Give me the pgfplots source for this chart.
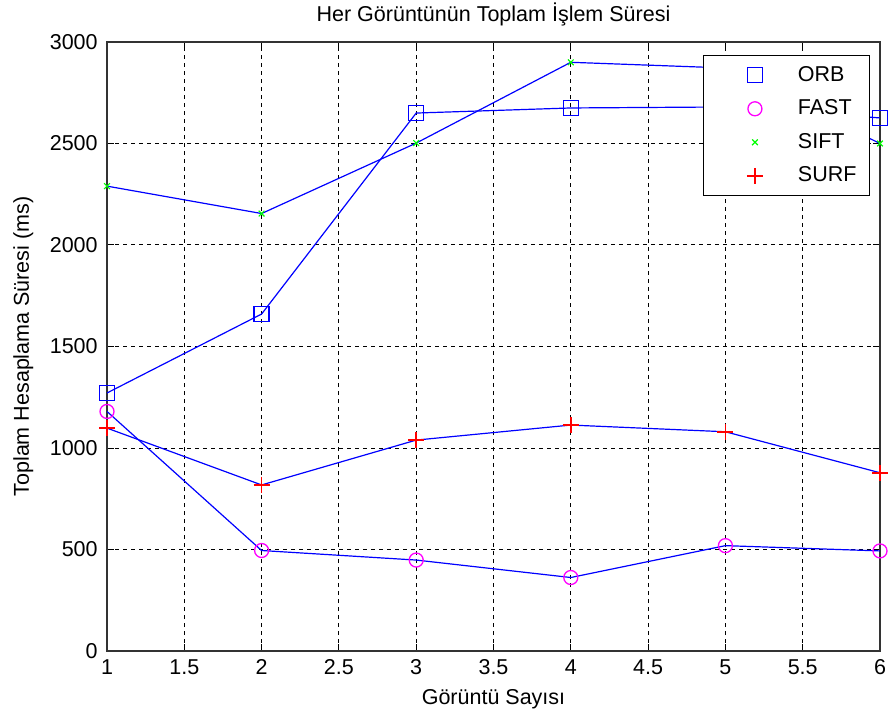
\documentclass[border=0pt]{standalone}
\usepackage{pgfplots}
\pgfplotsset{compat=1.18}
\usepackage{fontspec}
\setmainfont{Liberation Sans}
\definecolor{mblue}{RGB}{0,0,255}
\definecolor{mmag}{RGB}{255,0,255}
\definecolor{mgreen}{RGB}{0,255,0}
\definecolor{mred}{RGB}{255,0,0}
\newcommand{\ff}{\fontsize{21.5pt}{25pt}\selectfont}
\begin{document}
\ff
\begin{tikzpicture}
\begin{axis}[
  set layers=standard,
  scale only axis,
  width=773pt, height=609pt,
  xmin=1, xmax=6, ymin=0, ymax=3000,
  xtick={1,1.5,...,6},
  ytick={0,500,...,3000},
  xticklabels={1,1.5,2,2.5,3,3.5,4,4.5,5,5.5,6},
  yticklabels={0,500,1000,1500,2000,2500,3000},
  /pgf/number format/assume math mode=true,
  tick align=inside,
  major tick length=7pt,
  tick style={black, line width=1pt},
  axis line style={line width=1.5pt, black!80},
  grid=major,
  major grid style={black, dash pattern=on 4pt off 4pt, line width=1pt},
  ticklabel style={font=\ff},
  xticklabel style={yshift=-1pt},
  yticklabel style={xshift=-2pt},
  title={Her Görüntünün Toplam İşlem Süresi},
  title style={font=\ff, yshift=3pt},
  xlabel={Görüntü Sayısı},
  ylabel={Toplam Hesaplama Süresi (ms)},
  label style={font=\ff},
  xlabel style={yshift=0pt},
  ylabel style={yshift=2pt},
  legend style={at={(0.987,0.979)}, anchor=north east, draw=black, line width=1pt, fill=white,
    font=\ff, row sep=13.5pt, inner xsep=0pt, inner ysep=10pt,
    nodes={inner sep=0pt}},
  legend cell align=left,
  legend image code/.code={\path[draw=none, fill=none] (0pt,-10pt) rectangle (94pt,10pt);
     \draw[#1] plot coordinates {(51pt,0pt)};},
  every axis plot/.append style={line width=1.2pt},
]
% connecting lines
\addplot[mblue, forget plot] coordinates {(1,1271) (2,1660) (3,2650) (4,2675) (5,2680) (6,2626)};
\addplot[mblue, forget plot] coordinates {(1,1180) (2,495) (3,448) (4,362) (5,519) (6,493)};
\addplot[mblue, forget plot] coordinates {(1,2290) (2,2155) (3,2502) (4,2900) (5,2872) (6,2500)};
\addplot[mblue, forget plot] coordinates {(1,1098) (2,818) (3,1039) (4,1113) (5,1080) (6,878)};
% markers
\addplot[only marks, mark=square, mark size=7.5pt, mark options={mblue, line width=1.3pt}] coordinates {(1,1271) (2,1660) (3,2650) (4,2675) (5,2680) (6,2626)};
\addlegendentry{ORB\hspace*{13pt}}
\addplot[only marks, mark=o, mark size=7pt, mark options={mmag, line width=1.3pt}] coordinates {(1,1180) (2,495) (3,448) (4,362) (5,519) (6,493)};
\addlegendentry{FAST\hspace*{13pt}}
\addplot[only marks, mark=x, mark size=4pt, mark options={mgreen, line width=1.2pt}] coordinates {(1,2290) (2,2155) (3,2502) (4,2900) (5,2872) (6,2500)};
\addlegendentry{SIFT\hspace*{13pt}}
\addplot[only marks, mark=+, mark size=8pt, mark options={mred, line width=1.5pt}] coordinates {(1,1098) (2,818) (3,1039) (4,1113) (5,1080) (6,878)};
\addlegendentry{SURF\hspace*{13pt}}
\end{axis}
\pgfresetboundingbox
\path ([shift={(-107pt,-69pt)}]current axis.south west) rectangle ([shift={(12pt,42pt)}]current axis.north east);
\end{tikzpicture}
\end{document}
